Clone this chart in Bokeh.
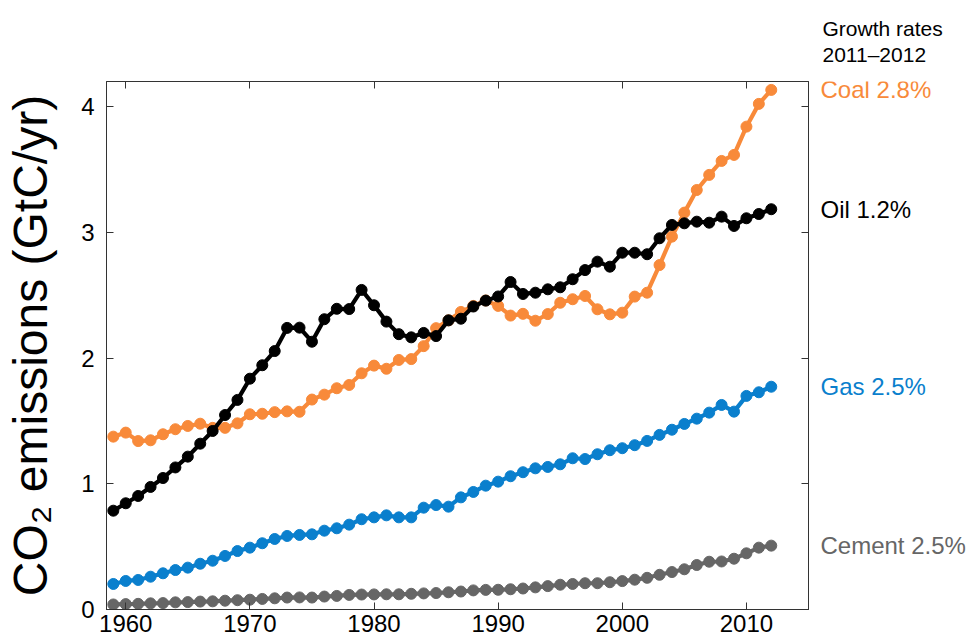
from bokeh.plotting import figure
from bokeh.layouts import row
from bokeh.models import Range1d, LinearAxis, CustomJSTickFormatter, FixedTicker, ColumnDataSource, Title
from bokeh.core.properties import value
from bokeh.embed import file_html
from bokeh.resources import INLINE

years = list(range(1959, 2013))

coal = [1.375, 1.407, 1.340, 1.346, 1.394, 1.434, 1.460, 1.478, 1.445, 1.445,
        1.481, 1.553, 1.557, 1.570, 1.576, 1.573, 1.670, 1.709, 1.760, 1.786,
        1.879, 1.940, 1.915, 1.985, 1.992, 2.095, 2.238, 2.300, 2.367, 2.415,
        2.458, 2.415, 2.338, 2.352, 2.297, 2.350, 2.440, 2.468, 2.494, 2.388,
        2.348, 2.361, 2.489, 2.520, 2.740, 2.966, 3.157, 3.337, 3.457, 3.568,
        3.616, 3.841, 4.022, 4.133]

oil = [0.786, 0.845, 0.903, 0.975, 1.046, 1.130, 1.216, 1.319, 1.420, 1.547,
       1.667, 1.836, 1.943, 2.056, 2.240, 2.242, 2.130, 2.309, 2.392, 2.390,
       2.542, 2.420, 2.290, 2.190, 2.165, 2.200, 2.175, 2.300, 2.313, 2.410,
       2.457, 2.490, 2.605, 2.510, 2.520, 2.547, 2.563, 2.627, 2.700, 2.767,
       2.727, 2.838, 2.838, 2.826, 2.953, 3.059, 3.072, 3.085, 3.077, 3.125,
       3.051, 3.112, 3.146, 3.184]

gas = [0.203, 0.227, 0.235, 0.261, 0.288, 0.314, 0.333, 0.364, 0.388, 0.426,
       0.465, 0.492, 0.527, 0.561, 0.585, 0.593, 0.598, 0.627, 0.646, 0.675,
       0.718, 0.733, 0.749, 0.733, 0.733, 0.810, 0.831, 0.818, 0.892, 0.935,
       0.985, 1.017, 1.060, 1.092, 1.123, 1.134, 1.155, 1.203, 1.197, 1.235,
       1.267, 1.283, 1.307, 1.341, 1.389, 1.430, 1.476, 1.518, 1.566, 1.627,
       1.574, 1.699, 1.728, 1.772]

cement = [0.040, 0.043, 0.045, 0.049, 0.051, 0.057, 0.059, 0.063, 0.065, 0.070,
          0.074, 0.078, 0.084, 0.089, 0.095, 0.096, 0.095, 0.103, 0.108, 0.116,
          0.119, 0.120, 0.121, 0.121, 0.125, 0.128, 0.131, 0.137, 0.143, 0.152,
          0.156, 0.157, 0.161, 0.167, 0.176, 0.186, 0.197, 0.203, 0.209, 0.209,
          0.217, 0.226, 0.237, 0.252, 0.276, 0.298, 0.320, 0.354, 0.380, 0.382,
          0.404, 0.447, 0.492, 0.508]

series_names = ["Cement 2.5%", "Gas 2.5%", "Coal 2.8%", "Oil 1.2%"]
series_values = [cement, gas, coal, oil]
series_colors = ["#666666", "#0a7fcd", "#f88a3a", "#000000"]

heading_lines = ["Growth rates", "2011\u20132012"]

x_ticks = [1960, 1970, 1980, 1990, 2000, 2010]
y_ticks = [0, 1, 2, 3, 4]

FONT = "Liberation Sans"
AXC = "#333333"

TOP, BOTTOM, FRAME_H = 81, 34, 528
Y0, Y1 = 0.0, 4.2

p = figure(frame_width=702, frame_height=FRAME_H,
           min_border_left=106, min_border_right=6,
           min_border_top=TOP, min_border_bottom=BOTTOM,
           x_range=Range1d(1958.45, 2015.0), y_range=Range1d(Y0, Y1),
           output_backend="svg", toolbar_location=None,
           x_axis_location=None, y_axis_location=None)
p.grid.visible = False
p.outline_line_color = AXC
p.background_fill_color = "white"
p.border_fill_color = "white"


def style_axis(ax, show_labels):
    ax.axis_line_color = AXC
    ax.axis_line_width = 1
    ax.major_tick_in = 7
    ax.major_tick_out = 0
    ax.major_tick_line_color = AXC
    ax.minor_tick_line_color = None
    ax.major_label_text_font = FONT
    ax.major_label_text_font_size = "24px"
    ax.major_label_text_color = "black"
    if not show_labels:
        ax.formatter = CustomJSTickFormatter(code="return '';")


xb = LinearAxis(ticker=FixedTicker(ticks=x_ticks))
style_axis(xb, True)
xb.major_label_standoff = 5
p.add_layout(xb, "below")

xt = LinearAxis(ticker=FixedTicker(ticks=x_ticks))
style_axis(xt, False)
xt.major_label_standoff = 0
p.add_layout(xt, "above")

yl = LinearAxis(ticker=FixedTicker(ticks=y_ticks))
style_axis(yl, True)
yl.major_label_standoff = 12
yl.axis_label = "CO\u2082 emissions (GtC/yr)"
yl.axis_label_text_font = FONT
yl.axis_label_text_font_size = "48px"
yl.axis_label_text_font_style = "normal"
yl.axis_label_text_color = "black"
yl.axis_label_standoff = 21
p.add_layout(yl, "left")

yr = LinearAxis(ticker=FixedTicker(ticks=y_ticks))
style_axis(yr, False)
yr.major_label_standoff = 0
p.add_layout(yr, "right")

for name, vals, col in zip(series_names, series_values, series_colors):
    src = ColumnDataSource(dict(x=years, y=vals))
    p.line("x", "y", source=src, line_color=col, line_width=4.2)
    p.scatter("x", "y", source=src, size=11, fill_color=col, line_color=col)

# side panel with the growth-rate labels, sharing the vertical range
SIDE_W = 157
side = figure(width=SIDE_W, height=TOP + FRAME_H + BOTTOM,
              x_range=Range1d(0, SIDE_W), y_range=p.y_range,
              min_border=0, min_border_top=TOP, min_border_bottom=BOTTOM,
              output_backend="svg", toolbar_location=None,
              x_axis_location=None, y_axis_location=None)
side.grid.visible = False
side.outline_line_color = None
side.background_fill_color = "white"
side.border_fill_color = "white"

lab_src = ColumnDataSource(dict(
    x=[6] * len(series_names),
    y=[v[-1] for v in series_values],
    text=series_names,
    color=series_colors,
))
side.text("x", "y", text="text", source=lab_src, text_color="color",
          text_font=value(FONT), text_font_size="24px",
          text_align="left", text_baseline="middle")

side.add_layout(Title(text="\n".join(heading_lines), text_font=FONT,
                      text_font_size="21px", text_font_style="normal",
                      text_color="black", text_line_height=1.15,
                      align="left", offset=8, standoff=30), "above")

layout = row(p, side, spacing=0)
open("out.html", "w").write(file_html(layout, INLINE))
